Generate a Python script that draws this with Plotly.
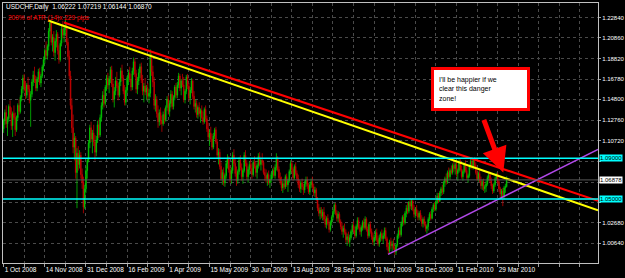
import plotly.graph_objects as go

# ---------------- data (prices in pips, 1 pip = 0.0001) ----------------
tick_labels = ["1 Oct 2008", "14 Nov 2008", "31 Dec 2008", "16 Feb 2009", "1 Apr 2009",
               "15 May 2009", "30 Jun 2009", "13 Aug 2009", "28 Sep 2009", "11 Nov 2009",
               "28 Dec 2009", "11 Feb 2010", "29 Mar 2010"]
bars_per_label = 32

price_ticks = [1.22840, 1.20860, 1.18820, 1.16780, 1.14800, 1.12760, 1.10720,
               1.08680, 1.06640, 1.04660, 1.02680, 1.00640, 0.98660]
price_tick_text = ["1.22840", "1.20860", "1.18820", "1.16780", "1.14800", "1.12760", "1.10720",
                   "", "", "", "1.02680", "1.00640", "0.98660"]

open_pips = [
    11190, 11270, 11350, 11240, 11290, 11410, 11330, 11220, 11340, 11300,
    11180, 11300, 11420, 11360, 11500, 11580, 11690, 11600, 11520, 11620,
    11580, 11470, 11530, 11650, 11720, 11670, 11590, 11680, 11750, 11640,
    11710, 11800, 11870, 11960, 11910, 12000, 12150, 12230, 12040, 12090,
    11940, 12050, 12120, 11960, 11870, 12030, 12170, 12110, 12180, 12200,
    12040, 11900, 11710, 11420, 11200, 11010, 11100, 10760, 10950, 10840,
    10930, 10740, 10660, 10420, 10600, 10780, 10880, 11050, 11200, 11090,
    11150, 11060, 10960, 11080, 11230, 11130, 11300, 11420, 11520, 11440,
    11600, 11690, 11620, 11680, 11770, 11630, 11480, 11560, 11660, 11610,
    11520, 11650, 11760, 11690, 11560, 11450, 11570, 11690, 11740, 11680,
    11600, 11760, 11850, 11730, 11580, 11660, 11740, 11800, 11670, 11560,
    11610, 11550, 11590, 11510, 11540, 11900, 11750, 11650, 11420, 11480,
    11340, 11260, 11350, 11270, 11240, 11330, 11280, 11400, 11480, 11360,
    11440, 11530, 11410, 11500, 11600, 11520, 11620, 11710, 11590, 11660,
    11620, 11480, 11560, 11700, 11610, 11490, 11570, 11660, 11510, 11410,
    11440, 11330, 11400, 11340, 11370, 11300, 11260, 11380, 11290, 11190,
    11110, 11150, 11090, 11010, 11120, 11180, 11060, 10930, 10960, 10820,
    10700, 10760, 10660, 10730, 10850, 10900, 10790, 10700, 10780, 10930,
    10850, 10750, 10680, 10770, 10880, 10810, 10720, 10780, 10930, 10850,
    10720, 10790, 10840, 10800, 10740, 10860, 10820, 10760, 10830, 10920,
    10840, 10880, 10860, 10760, 10730, 10700, 10740, 10660, 10690, 10740,
    10780, 10730, 10810, 10900, 10790, 10710, 10670, 10610, 10650, 10620,
    10720, 10640, 10680, 10770, 10850, 10790, 10710, 10820, 10750, 10700,
    10640, 10600, 10660, 10620, 10590, 10650, 10690, 10630, 10570, 10640,
    10670, 10620, 10560, 10590, 10500, 10410, 10360, 10390, 10330, 10370,
    10300, 10250, 10310, 10260, 10200, 10270, 10320, 10380, 10440, 10360,
    10310, 10350, 10280, 10230, 10180, 10210, 10170, 10100, 10130, 10080,
    10120, 10180, 10240, 10190, 10140, 10230, 10290, 10220, 10180, 10220,
    10270, 10220, 10300, 10200, 10140, 10250, 10180, 10130, 10080, 10120,
    10170, 10100, 10060, 10120, 10160, 10110, 10140, 10190, 10110, 10030,
    9990, 10080, 10040, 10060, 10020, 9980, 10050, 10140, 10190, 10150,
    10260, 10320, 10270, 10360, 10410, 10380, 10470, 10430, 10480, 10400,
    10350, 10400, 10360, 10320, 10360, 10300, 10260, 10300, 10250, 10210,
    10230, 10300, 10350, 10310, 10400, 10440, 10400, 10470, 10530, 10480,
    10560, 10600, 10570, 10660, 10700, 10670, 10760, 10720, 10780, 10760,
    10830, 10800, 10840, 10750, 10780, 10870, 10790, 10720, 10770, 10840,
    10780, 10710, 10730, 10820, 10870, 10810, 10880, 10830, 10760, 10700,
    10750, 10680, 10630, 10670, 10600, 10620, 10650, 10710, 10740, 10680,
    10630, 10580, 10640, 10700, 10740, 10670, 10600, 10550, 10580, 10520,
    10610, 10622]

high_pips = [
    11290, 11380, 11420, 11310, 11430, 11470, 11400, 11360, 11420, 11350,
    11320, 11440, 11480, 11520, 11610, 11720, 11730, 11660, 11640, 11700,
    11620, 11560, 11680, 11760, 11800, 11710, 11700, 11780, 11790, 11730,
    11820, 11900, 11980, 12050, 12020, 12180, 12260, 12250, 12120, 12150,
    12080, 12160, 12140, 12010, 12060, 12200, 12250, 12200, 12260, 12230,
    12080, 11960, 11760, 11490, 11330, 11150, 11120, 11000, 11020, 10980,
    10960, 10800, 10720, 10640, 10820, 10900, 11080, 11230, 11260, 11180,
    11230, 11130, 11120, 11270, 11280, 11330, 11450, 11560, 11580, 11620,
    11720, 11740, 11710, 11800, 11810, 11680, 11600, 11700, 11750, 11640,
    11680, 11790, 11820, 11720, 11620, 11600, 11710, 11770, 11800, 11730,
    11790, 11890, 11880, 11770, 11700, 11780, 11830, 11840, 11720, 11640,
    11690, 11620, 11640, 11580, 11970, 11930, 11810, 11700, 11530, 11510,
    11420, 11380, 11400, 11320, 11360, 11390, 11420, 11510, 11520, 11470,
    11570, 11560, 11520, 11620, 11640, 11650, 11740, 11730, 11680, 11730,
    11700, 11580, 11720, 11730, 11640, 11600, 11690, 11680, 11560, 11480,
    11470, 11420, 11450, 11390, 11420, 11360, 11400, 11420, 11320, 11250,
    11180, 11210, 11140, 11150, 11200, 11210, 11090, 11000, 10990, 10860,
    10790, 10810, 10750, 10880, 10940, 10920, 10830, 10810, 10960, 10990,
    10900, 10820, 10790, 10910, 10930, 10850, 10800, 10960, 10980, 10880,
    10820, 10870, 10900, 10850, 10880, 10920, 10870, 10850, 10950, 10960,
    10900, 10950, 10880, 10800, 10790, 10760, 10780, 10700, 10760, 10800,
    10820, 10840, 10950, 10920, 10820, 10760, 10720, 10680, 10700, 10740,
    10750, 10700, 10790, 10880, 10870, 10810, 10840, 10860, 10780, 10740,
    10690, 10680, 10700, 10650, 10680, 10720, 10720, 10660, 10660, 10700,
    10720, 10650, 10620, 10610, 10520, 10450, 10420, 10420, 10400, 10420,
    10340, 10330, 10350, 10290, 10290, 10340, 10400, 10460, 10460, 10390,
    10380, 10370, 10300, 10270, 10240, 10260, 10200, 10160, 10180, 10150,
    10200, 10260, 10280, 10230, 10250, 10320, 10320, 10250, 10240, 10290,
    10310, 10330, 10320, 10230, 10270, 10280, 10210, 10170, 10150, 10200,
    10210, 10140, 10150, 10180, 10200, 10170, 10220, 10220, 10130, 10070,
    10100, 10120, 10090, 10110, 10040, 10060, 10160, 10220, 10230, 10280,
    10340, 10350, 10380, 10440, 10460, 10480, 10510, 10500, 10510, 10440,
    10420, 10440, 10390, 10380, 10390, 10340, 10320, 10330, 10280, 10250,
    10320, 10370, 10380, 10420, 10460, 10470, 10490, 10560, 10560, 10580,
    10620, 10640, 10680, 10720, 10750, 10780, 10810, 10800, 10830, 10850,
    10880, 10860, 10870, 10800, 10890, 10890, 10830, 10790, 10860, 10880,
    10820, 10750, 10840, 10900, 10910, 10900, 10910, 10860, 10790, 10770,
    10780, 10720, 10690, 10700, 10640, 10680, 10730, 10760, 10770, 10710,
    10650, 10660, 10720, 10760, 10760, 10690, 10620, 10600, 10610, 10630,
    10650, 10722]

low_pips = [
    11150, 11230, 11200, 11120, 11260, 11300, 11180, 11110, 11280, 11120,
    11160, 11270, 11330, 11340, 11460, 11540, 11560, 11480, 11490, 11550,
    11440, 11210, 11500, 11610, 11640, 11560, 11560, 11650, 11620, 11600,
    11690, 11760, 11830, 11880, 11870, 11960, 12080, 12010, 11950, 11900,
    11860, 11990, 11920, 11830, 11850, 12000, 12080, 12040, 12120, 12010,
    11870, 11680, 11380, 11150, 10950, 10880, 10700, 10410, 10780, 10800,
    10700, 10600, 10360, 10400, 10560, 10700, 10860, 11000, 11060, 10950,
    11020, 10880, 10920, 11050, 11100, 11110, 11260, 11380, 11400, 11420,
    11560, 11580, 11540, 11640, 11600, 11450, 11400, 11520, 11590, 11470,
    11500, 11610, 11660, 11530, 11420, 11420, 11540, 11620, 11650, 11560,
    11570, 11720, 11700, 11540, 11530, 11620, 11690, 11640, 11520, 11450,
    11520, 11470, 11480, 11440, 11500, 11710, 11600, 11380, 11360, 11300,
    11200, 11220, 11230, 11160, 11220, 11240, 11260, 11370, 11330, 11310,
    11400, 11380, 11380, 11470, 11490, 11490, 11590, 11560, 11520, 11600,
    11450, 11440, 11530, 11580, 11460, 11430, 11540, 11480, 11380, 11350,
    11300, 11290, 11310, 11250, 11280, 11230, 11240, 11260, 11160, 11080,
    11020, 11060, 10980, 10990, 11090, 11040, 10900, 10840, 10790, 10680,
    10640, 10630, 10620, 10700, 10800, 10760, 10660, 10650, 10750, 10820,
    10720, 10630, 10650, 10740, 10780, 10680, 10650, 10760, 10820, 10690,
    10660, 10740, 10770, 10700, 10720, 10800, 10720, 10700, 10800, 10820,
    10780, 10830, 10740, 10680, 10660, 10630, 10640, 10610, 10660, 10700,
    10710, 10700, 10780, 10770, 10680, 10640, 10580, 10560, 10590, 10600,
    10620, 10570, 10660, 10740, 10760, 10680, 10690, 10730, 10670, 10610,
    10570, 10560, 10590, 10540, 10560, 10620, 10600, 10550, 10540, 10610,
    10600, 10530, 10520, 10480, 10380, 10330, 10300, 10310, 10290, 10280,
    10220, 10210, 10240, 10170, 10180, 10240, 10290, 10350, 10340, 10280,
    10270, 10260, 10200, 10150, 10120, 10150, 10070, 10040, 10060, 10030,
    10100, 10150, 10170, 10110, 10120, 10200, 10200, 10150, 10130, 10190,
    10200, 10200, 10180, 10110, 10120, 10160, 10100, 10050, 10040, 10090,
    10080, 10040, 10030, 10080, 10090, 10060, 10110, 10090, 10000, 9960,
    9970, 10010, 9980, 10000, 9950, 9950, 10030, 10110, 10120, 10130,
    10230, 10240, 10250, 10320, 10350, 10360, 10400, 10390, 10380, 10320,
    10310, 10330, 10290, 10290, 10280, 10230, 10220, 10230, 10180, 10160,
    10190, 10280, 10290, 10300, 10370, 10380, 10380, 10450, 10460, 10470,
    10530, 10540, 10550, 10620, 10640, 10650, 10700, 10690, 10740, 10740,
    10770, 10740, 10720, 10680, 10760, 10770, 10700, 10680, 10750, 10760,
    10690, 10660, 10710, 10800, 10790, 10790, 10800, 10740, 10680, 10670,
    10660, 10600, 10590, 10580, 10560, 10570, 10630, 10680, 10660, 10600,
    10550, 10560, 10620, 10680, 10650, 10570, 10520, 10500, 10430, 10500,
    10560, 10614]

close_pips = [
    11270, 11350, 11240, 11290, 11410, 11330, 11220, 11340, 11300, 11180,
    11300, 11420, 11360, 11500, 11580, 11690, 11600, 11520, 11620, 11580,
    11470, 11530, 11650, 11720, 11670, 11590, 11680, 11750, 11640, 11710,
    11800, 11870, 11960, 11910, 12000, 12150, 12230, 12040, 12090, 11940,
    12050, 12120, 11960, 11870, 12030, 12170, 12110, 12180, 12200, 12040,
    11900, 11710, 11420, 11200, 11010, 11100, 10760, 10950, 10840, 10930,
    10740, 10660, 10420, 10600, 10780, 10880, 11050, 11200, 11090, 11150,
    11060, 10960, 11080, 11230, 11130, 11300, 11420, 11520, 11440, 11600,
    11690, 11620, 11680, 11770, 11630, 11480, 11560, 11660, 11610, 11520,
    11650, 11760, 11690, 11560, 11450, 11570, 11690, 11740, 11680, 11600,
    11760, 11850, 11730, 11580, 11660, 11740, 11800, 11670, 11560, 11610,
    11550, 11590, 11510, 11540, 11900, 11750, 11650, 11420, 11480, 11340,
    11260, 11350, 11270, 11240, 11330, 11280, 11400, 11480, 11360, 11440,
    11530, 11410, 11500, 11600, 11520, 11620, 11710, 11590, 11660, 11620,
    11480, 11560, 11700, 11610, 11490, 11570, 11660, 11510, 11410, 11440,
    11330, 11400, 11340, 11370, 11300, 11260, 11380, 11290, 11190, 11110,
    11150, 11090, 11010, 11120, 11180, 11060, 10930, 10960, 10820, 10700,
    10760, 10660, 10730, 10850, 10900, 10790, 10700, 10780, 10930, 10850,
    10750, 10680, 10770, 10880, 10810, 10720, 10780, 10930, 10850, 10720,
    10790, 10840, 10800, 10740, 10860, 10820, 10760, 10830, 10920, 10840,
    10880, 10860, 10760, 10730, 10700, 10740, 10660, 10690, 10740, 10780,
    10730, 10810, 10900, 10790, 10710, 10670, 10610, 10650, 10620, 10720,
    10640, 10680, 10770, 10850, 10790, 10710, 10820, 10750, 10700, 10640,
    10600, 10660, 10620, 10590, 10650, 10690, 10630, 10570, 10640, 10670,
    10620, 10560, 10590, 10500, 10410, 10360, 10390, 10330, 10370, 10300,
    10250, 10310, 10260, 10200, 10270, 10320, 10380, 10440, 10360, 10310,
    10350, 10280, 10230, 10180, 10210, 10170, 10100, 10130, 10080, 10120,
    10180, 10240, 10190, 10140, 10230, 10290, 10220, 10180, 10220, 10270,
    10220, 10300, 10200, 10140, 10250, 10180, 10130, 10080, 10120, 10170,
    10100, 10060, 10120, 10160, 10110, 10140, 10190, 10110, 10030, 9990,
    10080, 10040, 10060, 10020, 9980, 10050, 10140, 10190, 10150, 10260,
    10320, 10270, 10360, 10410, 10380, 10470, 10430, 10480, 10400, 10350,
    10400, 10360, 10320, 10360, 10300, 10260, 10300, 10250, 10210, 10230,
    10300, 10350, 10310, 10400, 10440, 10400, 10470, 10530, 10480, 10560,
    10600, 10570, 10660, 10700, 10670, 10760, 10720, 10780, 10760, 10830,
    10800, 10840, 10750, 10780, 10870, 10790, 10720, 10770, 10840, 10780,
    10710, 10730, 10820, 10870, 10810, 10880, 10830, 10760, 10700, 10750,
    10680, 10630, 10670, 10600, 10620, 10650, 10710, 10740, 10680, 10630,
    10580, 10640, 10700, 10740, 10670, 10600, 10550, 10580, 10520, 10610,
    10622, 10687]

# trend lines (bar index, price) and horizontal levels
yellow_line_x = [34.5, 462.0]
yellow_line_y = [1.22545, 1.03901]
red_line_x = [46.9, 462.0]
red_line_y = [1.22349, 1.04835]
purple_line_x = [298.8, 462.0]
purple_line_y = [0.99567, 1.09867]
level_upper = 1.09000
level_lower = 1.05000
bid_price = 1.06878

title_text = "USDCHF,Daily  1.06222 1.07219 1.06144 1.06870"
atr_text = "200% of ATR (14)x 229 pips"
callout_text = "I'll be happier if we<br>clear this danger<br>zone!"

# ---------------- figure ----------------
PIP = 10000.0
n = min(len(open_pips), len(high_pips), len(low_pips), len(close_pips))
xs = list(range(n))
o = [v / PIP for v in open_pips[:n]]
h = [v / PIP for v in high_pips[:n]]
l = [v / PIP for v in low_pips[:n]]
c = [v / PIP for v in close_pips[:n]]

FONT = "Liberation Sans"
AXIS_FS = 6
fig = go.Figure()
fig.add_trace(go.Candlestick(
    x=xs, open=o, high=h, low=l, close=c,
    increasing=dict(line=dict(color="#00c000", width=0.8), fillcolor="#00ff00"),
    decreasing=dict(line=dict(color="#c00000", width=0.8), fillcolor="#ff0000"),
    whiskerwidth=0, showlegend=False, hoverinfo="skip"))

for lx, ly, col, w in [(yellow_line_x, yellow_line_y, "#ffff00", 2),
                       (red_line_x, red_line_y, "#ff0000", 2),
                       (purple_line_x, purple_line_y, "#b048e8", 1.5)]:
    fig.add_trace(go.Scatter(x=lx, y=ly, mode="lines", line=dict(color=col, width=w),
                             showlegend=False, hoverinfo="skip"))

shapes = []
for lvl, col, w in [(bid_price, "#5a5a5a", 1), (level_upper, "#00ffff", 1.5), (level_lower, "#00ffff", 1.5)]:
    shapes.append(dict(type="line", xref="paper", x0=0, x1=1, yref="y", y0=lvl, y1=lvl,
                       line=dict(color=col, width=w), layer="above"))

n_grid = 29
tickvals = [16 * k for k in range(n_grid)]
ticktext = [tick_labels[k // 2] if (k % 2 == 0 and k // 2 < len(tick_labels)) else "" for k in range(n_grid)]

annotations = [
    dict(xref="paper", yref="paper", x=0.002, y=0.985, xanchor="left", yanchor="middle",
         text=title_text, showarrow=False, font=dict(family=FONT, size=6.5, color="#ffffff")),
    dict(xref="paper", yref="paper", x=0.005, y=0.942, xanchor="left", yanchor="middle",
         text=atr_text, showarrow=False, font=dict(family=FONT, size=6.5, color="#ff0000")),
    dict(x=370.3, y=1.1584, xref="x", yref="y", text=callout_text, showarrow=False,
         align="left", xanchor="center", yanchor="middle", width=83, height=28,
         bgcolor="#ffffff", bordercolor="#ff0000", borderwidth=3, borderpad=5,
         font=dict(family=FONT, size=7, color="#000000")),
    dict(x=388.4, y=1.0761, xref="x", yref="y", text="", showarrow=True,
         ax=-20, ay=-54, arrowcolor="#ff0000", arrowwidth=5, arrowhead=2, arrowsize=1),
]
for lvl, bg in [(level_upper, "#00ffff"), (bid_price, "#ffffff"), (level_lower, "#00ffff")]:
    annotations.append(dict(xref="paper", yref="y", x=1, y=lvl, xanchor="left", yanchor="middle",
                            xshift=1, text="%.5f" % lvl, showarrow=False, bgcolor=bg, borderpad=0,
                            font=dict(family=FONT, size=AXIS_FS, color="#000000")))

fig.update_layout(
    width=625, height=278,
    margin=dict(l=3, r=27, t=3, b=15),
    paper_bgcolor="#000000", plot_bgcolor="#000000",
    shapes=shapes, annotations=annotations,
    xaxis=dict(range=[-0.5, 462.0], tickmode="array", tickvals=tickvals, ticktext=ticktext,
               tickangle=0, automargin=False,
               ticklabelposition="outside right", ticks="outside", ticklen=3, tickcolor="#a0a0a0",
               showgrid=True, gridcolor="#4a4a4a", griddash="dot", gridwidth=1,
               showline=True, linecolor="#c0c0c0", linewidth=1, mirror=True,
               zeroline=False, rangeslider=dict(visible=False),
               tickfont=dict(family=FONT, size=6.5, color="#ffffff")),
    yaxis=dict(range=[0.98712, 1.24265], side="right", tickmode="array",
               tickvals=price_ticks, ticktext=price_tick_text, automargin=False,
               ticks="outside", ticklen=2, tickcolor="#a0a0a0",
               showgrid=True, gridcolor="#4a4a4a", griddash="dot", gridwidth=1,
               showline=True, linecolor="#c0c0c0", linewidth=1, mirror=True,
               zeroline=False, tickfont=dict(family=FONT, size=AXIS_FS, color="#ffffff")),
)

fig.write_html("out.html")
